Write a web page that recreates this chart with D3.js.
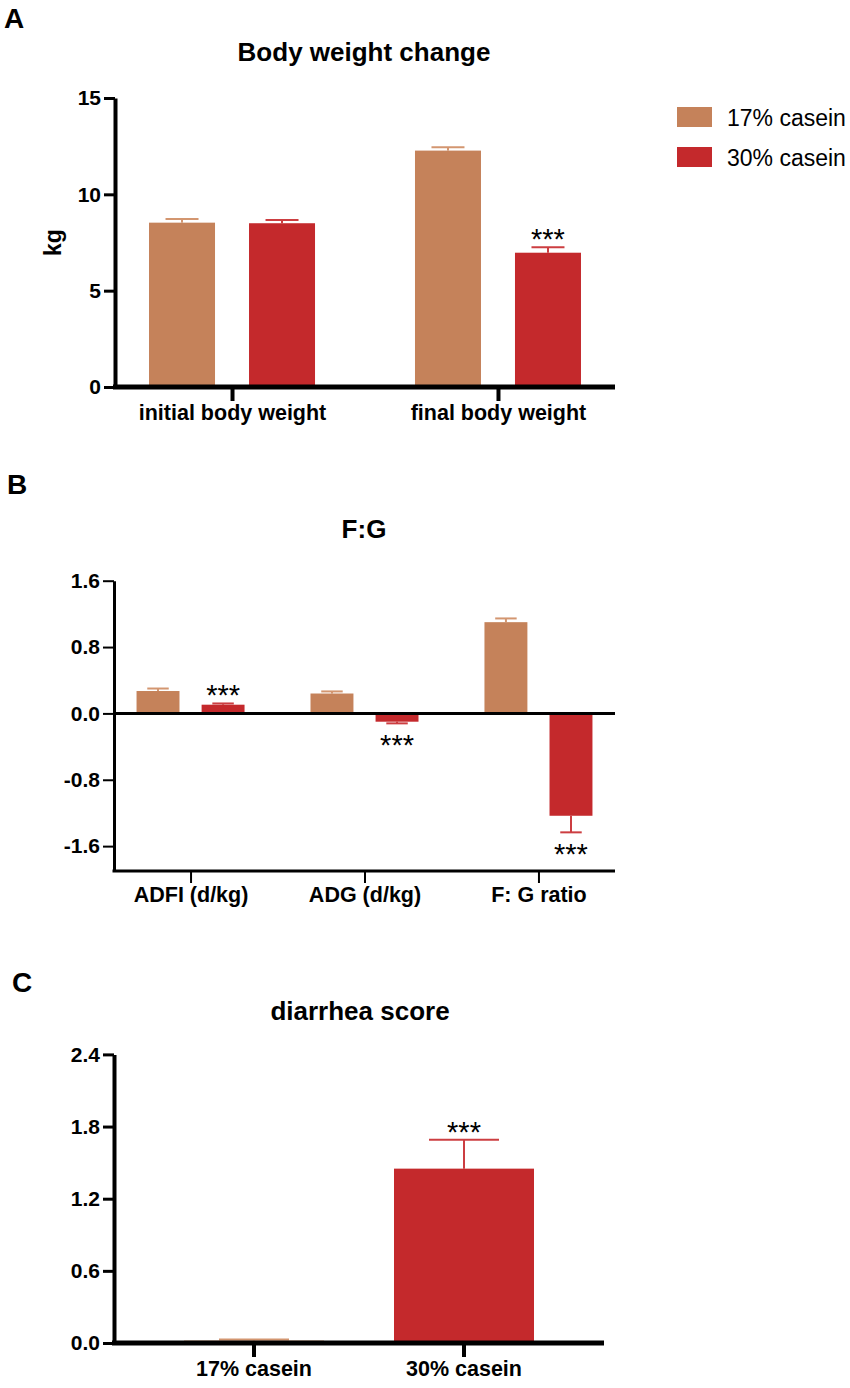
<!DOCTYPE html>
<html>
<head>
<meta charset="utf-8">
<script src="https://cdn.jsdelivr.net/npm/d3@7"></script>
<style>
    body { margin: 0; background: #fff; }
    svg { display: block; font-family: "Liberation Sans", Arial, Helvetica, sans-serif; }
</style>
</head>
<body>
<svg id="chart" width="850" height="1388"></svg>
<script>
'use strict';

// --- data ---
const series = ['17% casein', '30% casein'];
const seriesColors = ['#c5825a', '#c4292c'];
const errColors = ['#d39670', '#cc3e41'];

const weightCats = ['initial body weight', 'final body weight'];
const weight17 = [8.53, 12.27];
const weight17Err = [0.19, 0.18];
const weight30 = [8.50, 6.97];
const weight30Err = [0.17, 0.28];
const weightTicks = [0, 5, 10, 15];
const weightStars = [{ cat: 1, s: 1 }];

const fgCats = ['ADFI (d/kg)', 'ADG (d/kg)', 'F: G ratio'];
const fg17 = [0.27, 0.24, 1.10];
const fg17Err = [0.03, 0.025, 0.045];
const fg30 = [0.105, -0.10, -1.234];
const fg30Err = [0.015, 0.02, 0.20];
const fgTicks = [-1.6, -0.8, 0, 0.8, 1.6];
const fgStars = [{ cat: 0, s: 1 }, { cat: 1, s: 1 }, { cat: 2, s: 1 }];

const diarCats = ['17% casein', '30% casein'];
const diarValues = [0.02, 1.45];
const diarErr = [0.01, 0.24];
const diarTicks = [0, 0.6, 1.2, 1.8, 2.4];
const diarStars = [{ cat: 1 }];

const svg = d3.select('#chart');

const styleAxis = (g, { width = 4, size = 21 } = {}) => {
    g.attr('font-family', null).attr('font-size', null);
    g.select('.domain').attr('stroke', '#000').attr('stroke-width', width);
    g.selectAll('.tick line').attr('stroke', '#000').attr('stroke-width', width - 1);
    g.selectAll('.tick text').attr('fill', '#000').style('font-weight', 'bold').style('font-size', `${size}px`);
};

const drawBar = (g, x0, w, y, value, err, color, errColor) => {
    let top = value >= 0 ? y(value) : y(0);
    let bottom = value >= 0 ? y(0) : y(value);
    let end = value >= 0 ? value + err : value - err;
    let cx = x0 + w / 2;

    g.append('line')
        .attr('x1', cx).attr('x2', cx)
        .attr('y1', y(value)).attr('y2', y(end))
        .attr('stroke', errColor).attr('stroke-width', 2);
    g.append('line')
        .attr('x1', cx - w / 4).attr('x2', cx + w / 4)
        .attr('y1', y(end)).attr('y2', y(end))
        .attr('stroke', errColor).attr('stroke-width', 2);
    g.append('rect')
        .attr('x', x0).attr('width', w)
        .attr('y', top).attr('height', Math.max(bottom - top, 1.5))
        .attr('fill', color);
    return { cx, tip: y(end), up: value >= 0 };
};

// asterisks sit just above an upward cap, or just below a downward one
const drawStars = (g, pos) => {
    g.append('text')
        .attr('x', pos.cx)
        .attr('y', pos.up ? pos.tip + 2 : pos.tip + 32)
        .attr('text-anchor', 'middle')
        .style('font-size', '29px')
        .text('***');
};

const panelLetter = (letter, x, y) => svg.append('text')
    .attr('x', x).attr('y', y)
    .style('font-size', '28px').style('font-weight', 'bold')
    .text(letter);

const panelTitle = (title, x, y) => svg.append('text')
    .attr('x', x).attr('y', y).attr('text-anchor', 'middle')
    .style('font-size', '26px').style('font-weight', 'bold')
    .text(title);

// ---------- A: body weight ----------
{
    const g = svg.append('g');
    const x = d3.scalePoint().domain(weightCats).range([115, 615]).padding(0.44);
    const inner = d3.scaleBand().domain(series).range([-83, 83]).paddingInner(0.34);
    const y = d3.scaleLinear().domain([0, 15]).range([387, 98]);
    const vals = [weight17, weight30];
    const errs = [weight17Err, weight30Err];

    const pos = weightCats.map((c, i) => series.map((s, j) =>
        drawBar(g, x(c) + inner(s), inner.bandwidth(), y, vals[j][i], errs[j][i], seriesColors[j], errColors[j])));
    weightStars.forEach(d => drawStars(g, pos[d.cat][d.s]));

    g.append('g').attr('transform', 'translate(115,0)')
        .call(d3.axisLeft(y).tickValues(weightTicks).tickSize(11).tickSizeOuter(0).tickPadding(3))
        .call(styleAxis);
    g.append('g').attr('transform', `translate(0,${y(0)})`)
        .call(d3.axisBottom(x).tickSize(14).tickSizeOuter(0).tickPadding(4))
        .call(styleAxis, { width: 5, size: 21.5 })
        .call(a => a.select('.domain').attr('d', `M113,0H615`));

    g.append('text')
        .attr('transform', `translate(61,${y(7.5)}) rotate(-90)`)
        .attr('text-anchor', 'middle')
        .style('font-size', '23px').style('font-weight', 'bold')
        .text('kg');

    const legend = g.append('g').attr('transform', 'translate(677,107)');
    series.forEach((s, j) => {
        legend.append('rect').attr('x', 0).attr('y', j * 40).attr('width', 35).attr('height', 20).attr('fill', seriesColors[j]);
        legend.append('text').attr('x', 50).attr('y', j * 40 + 19).style('font-size', '23px').text(s);
    });

    panelLetter('A', 4, 28);
    panelTitle('Body weight change', 364, 61);
}

// ---------- B: F:G ----------
{
    const g = svg.append('g');
    const x = d3.scalePoint().domain(fgCats).range([114, 615]).padding(0.44);
    const inner = d3.scaleBand().domain(series).range([-54, 54]).paddingInner(0.34);
    const y = d3.scaleLinear().domain([-1.9, 1.6]).range([871, 580.7]);
    const vals = [fg17, fg30];
    const errs = [fg17Err, fg30Err];

    const pos = fgCats.map((c, i) => series.map((s, j) =>
        drawBar(g, x(c) + inner(s), inner.bandwidth(), y, vals[j][i], errs[j][i], seriesColors[j], errColors[j])));
    fgStars.forEach(d => drawStars(g, pos[d.cat][d.s]));

    g.append('line')
        .attr('x1', 114).attr('x2', 615).attr('y1', y(0)).attr('y2', y(0))
        .attr('stroke', '#000').attr('stroke-width', 3);

    g.append('g').attr('transform', 'translate(114,0)')
        .call(d3.axisLeft(y).tickValues(fgTicks).tickFormat(d => d.toFixed(1)).tickSize(11).tickSizeOuter(0).tickPadding(3))
        .call(styleAxis, { width: 3 });
    g.append('g').attr('transform', `translate(0,${y(-1.9)})`)
        .call(d3.axisBottom(x).tickSize(12).tickSizeOuter(0).tickPadding(4))
        .call(styleAxis, { width: 3, size: 21.5 })
        .call(a => a.select('.domain').attr('d', `M112.5,0H615`));

    panelLetter('B', 7, 494);
    panelTitle('F:G', 364, 538);
}

// ---------- C: diarrhea score ----------
{
    const g = svg.append('g');
    const x = d3.scaleBand().domain(diarCats).range([114, 604]).paddingInner(1 / 3).paddingOuter(1 / 3);
    const y = d3.scaleLinear().domain([0, 2.4]).range([1343, 1054.4]);

    const pos = diarCats.map((c, i) =>
        drawBar(g, x(c), x.bandwidth(), y, diarValues[i], diarErr[i], seriesColors[i], errColors[i]));
    diarStars.forEach(d => drawStars(g, pos[d.cat]));

    g.append('g').attr('transform', 'translate(114,0)')
        .call(d3.axisLeft(y).tickValues(diarTicks).tickFormat(d => d.toFixed(1)).tickSize(11).tickSizeOuter(0).tickPadding(3))
        .call(styleAxis);
    g.append('g').attr('transform', `translate(0,${y(0)})`)
        .call(d3.axisBottom(x).tickSize(14).tickSizeOuter(0).tickPadding(4))
        .call(styleAxis, { width: 5, size: 21.5 })
        .call(a => a.select('.domain').attr('d', `M112,0H604`));

    panelLetter('C', 12, 992);
    panelTitle('diarrhea score', 360, 1020);
}
</script>
</body>
</html>
